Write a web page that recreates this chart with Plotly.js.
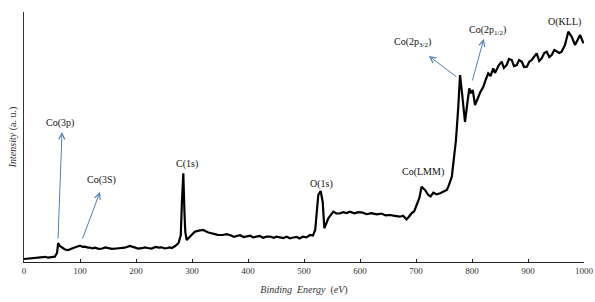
<!DOCTYPE html>
<html>
<head>
<meta charset="utf-8">
<script src="https://cdn.plot.ly/plotly-3.0.1.min.js"></script>
<style>html,body{margin:0;padding:0;background:#fff;}#chart{width:595px;height:302px;}</style>
</head>
<body>
<div id="chart"></div>
<script>
// Binding energy (eV)
const energy = [0, 10, 20, 26, 32, 38, 43, 49, 55, 59, 61, 64, 68, 73, 79, 84, 88, 94, 100, 105, 109, 114, 118, 122, 127, 133, 140, 145, 150, 157, 165, 172, 180, 189, 194, 198, 204, 210, 216, 221, 228, 235, 241, 246, 251, 256, 260, 264, 270, 276, 280, 282, 284.5, 286.5, 288, 290.5, 296, 300, 305, 312, 320, 328, 337, 346, 355, 362, 370, 375, 380, 386, 392, 398, 404, 409, 415, 421, 427, 433, 440, 446, 451, 457, 463, 469, 475, 481, 487, 492, 498, 504, 511, 516, 520, 525.5, 529.8, 533.4, 536.3, 543.4, 548, 552.3, 558, 564, 570, 576, 582, 590, 597, 605, 612, 620, 630, 638, 646, 654, 662, 671, 677, 683, 687, 692, 697, 701, 706, 710, 716, 722, 726, 731, 737, 743, 749, 755, 757.7, 764, 768, 771.4, 775.5, 778.6, 781.6, 784.5, 787.5, 791.6, 793, 795.2, 797.7, 801.3, 805.4, 808, 811.3, 815, 820.2, 825, 829, 833, 838, 841, 844, 848, 853, 857, 862, 866, 871, 875, 880, 884, 889, 893, 898, 902, 906.6, 911, 915.5, 920, 924.5, 929, 933.4, 938, 942.3, 947, 951.3, 956, 960, 966, 972, 978, 984, 988, 993, 999];
// Intensity (a. u.)
const intensity = [3, 3.5, 3.7, 4.6, 4.7, 5.2, 4.3, 4.9, 5.3, 9, 19, 16, 14, 12.5, 12, 13.5, 14, 15.2, 16.3, 15.1, 15.3, 14.4, 14.5, 13.6, 14.3, 13.2, 13.5, 14.6, 14, 13.1, 13.5, 14.2, 14.3, 16, 15.2, 14, 13.4, 13.8, 14.6, 14, 13.5, 15, 14.3, 14.7, 13.6, 14, 14.5, 14, 16, 19, 27, 60, 88.7, 50, 30, 22, 25.3, 27.5, 30.3, 31.4, 32, 29.8, 28.7, 27.2, 27, 27.8, 26.5, 25.1, 26, 26.8, 25, 25.9, 26.3, 24.6, 25, 26, 24.3, 25.4, 25.5, 24.2, 25.3, 24.8, 24, 25.2, 23.7, 24.5, 25, 23.6, 25.3, 24.6, 27, 26.4, 32, 67, 71, 60, 33.7, 43.7, 47, 50.3, 48.5, 48.7, 49.8, 49, 50.3, 48.6, 49.8, 49.3, 47.8, 48.9, 47.7, 48.4, 46.6, 47, 46.2, 45.3, 46.3, 42.7, 45, 48.7, 51, 57, 64, 75.3, 72, 67, 65.5, 69.3, 67.6, 68.7, 70.2, 72, 75.3, 85.3, 105.3, 122, 155, 187, 172, 158.7, 140, 158.7, 165, 173.7, 168.7, 172, 157, 160, 165, 170, 175.3, 183, 188.7, 186, 193.7, 189, 192, 197, 200.3, 194, 197, 203, 202, 196, 197, 202, 200.3, 195, 195.3, 200, 202, 206, 208.7, 201, 203.7, 209, 210.3, 205, 207, 212, 210.3, 209, 210.3, 217, 230.3, 225.3, 217, 222, 227, 218.7];

// Peak labels
const labelText = ['Co(3p)', 'Co(3S)', 'C(1s)', 'O(1s)', 'Co(LMM)', 'Co(2p<sub>3/2</sub>)', 'Co(2p<sub>1/2</sub>)', 'O(KLL)'];
const labelX = [64, 139, 291, 532, 712, 693, 827, 966];
const labelY = [139, 82, 98, 78, 90, 220, 232, 240];

// Arrows: tail -> head
const arrowTailX = [60.7, 103.6, 775, 800];
const arrowTailY = [22, 22, 184, 180];
const arrowHeadX = [67.9, 135.7, 723, 821];
const arrowHeadY = [130, 70, 206, 223];

const serif = 'Liberation Serif, Times New Roman, serif';

const annotations = [];
labelText.forEach((t, i) => {
  annotations.push({
    x: labelX[i], y: labelY[i], xref: 'x', yref: 'y', text: t, showarrow: false,
    font: {family: serif, size: 10, color: '#111'}
  });
});
arrowHeadX.forEach((hx, i) => {
  annotations.push({
    x: hx, y: arrowHeadY[i], xref: 'x', yref: 'y',
    ax: arrowTailX[i], ay: arrowTailY[i], axref: 'x', ayref: 'y',
    text: '', showarrow: true, arrowhead: 5, arrowsize: 1.2, arrowwidth: 1,
    arrowcolor: '#4f7fb5', standoff: 0, startstandoff: 0
  });
});

const trace = {
  x: energy, y: intensity, type: 'scatter', mode: 'lines',
  line: {color: '#000', width: 2.2}, hoverinfo: 'skip'
};

const layout = {
  width: 595, height: 302,
  margin: {l: 24, r: 11, t: 12, b: 40},
  paper_bgcolor: '#fff', plot_bgcolor: '#fff',
  showlegend: false,
  xaxis: {
    range: [0, 1000], dtick: 100, tick0: 0,
    showgrid: false, zeroline: false,
    showline: true, linecolor: '#222', linewidth: 1,
    ticks: 'inside', ticklen: 3, tickcolor: '#222',
    tickfont: {family: serif, size: 9, color: '#333'},
    title: {text: '<i>Binding  Energy</i>  (<i>eV</i>)', font: {family: serif, size: 10, color: '#333'}, standoff: 11}
  },
  yaxis: {
    range: [0, 250],
    showgrid: false, zeroline: false,
    showline: true, linecolor: '#333', linewidth: 1,
    ticks: '', showticklabels: false,
    title: {text: '<i>Intensity</i> (a. u.)', font: {family: serif, size: 10, color: '#333'}, standoff: 4}
  },
  annotations: annotations
};

Plotly.newPlot('chart', [trace], layout, {displayModeBar: false, staticPlot: true});
</script>
</body>
</html>
